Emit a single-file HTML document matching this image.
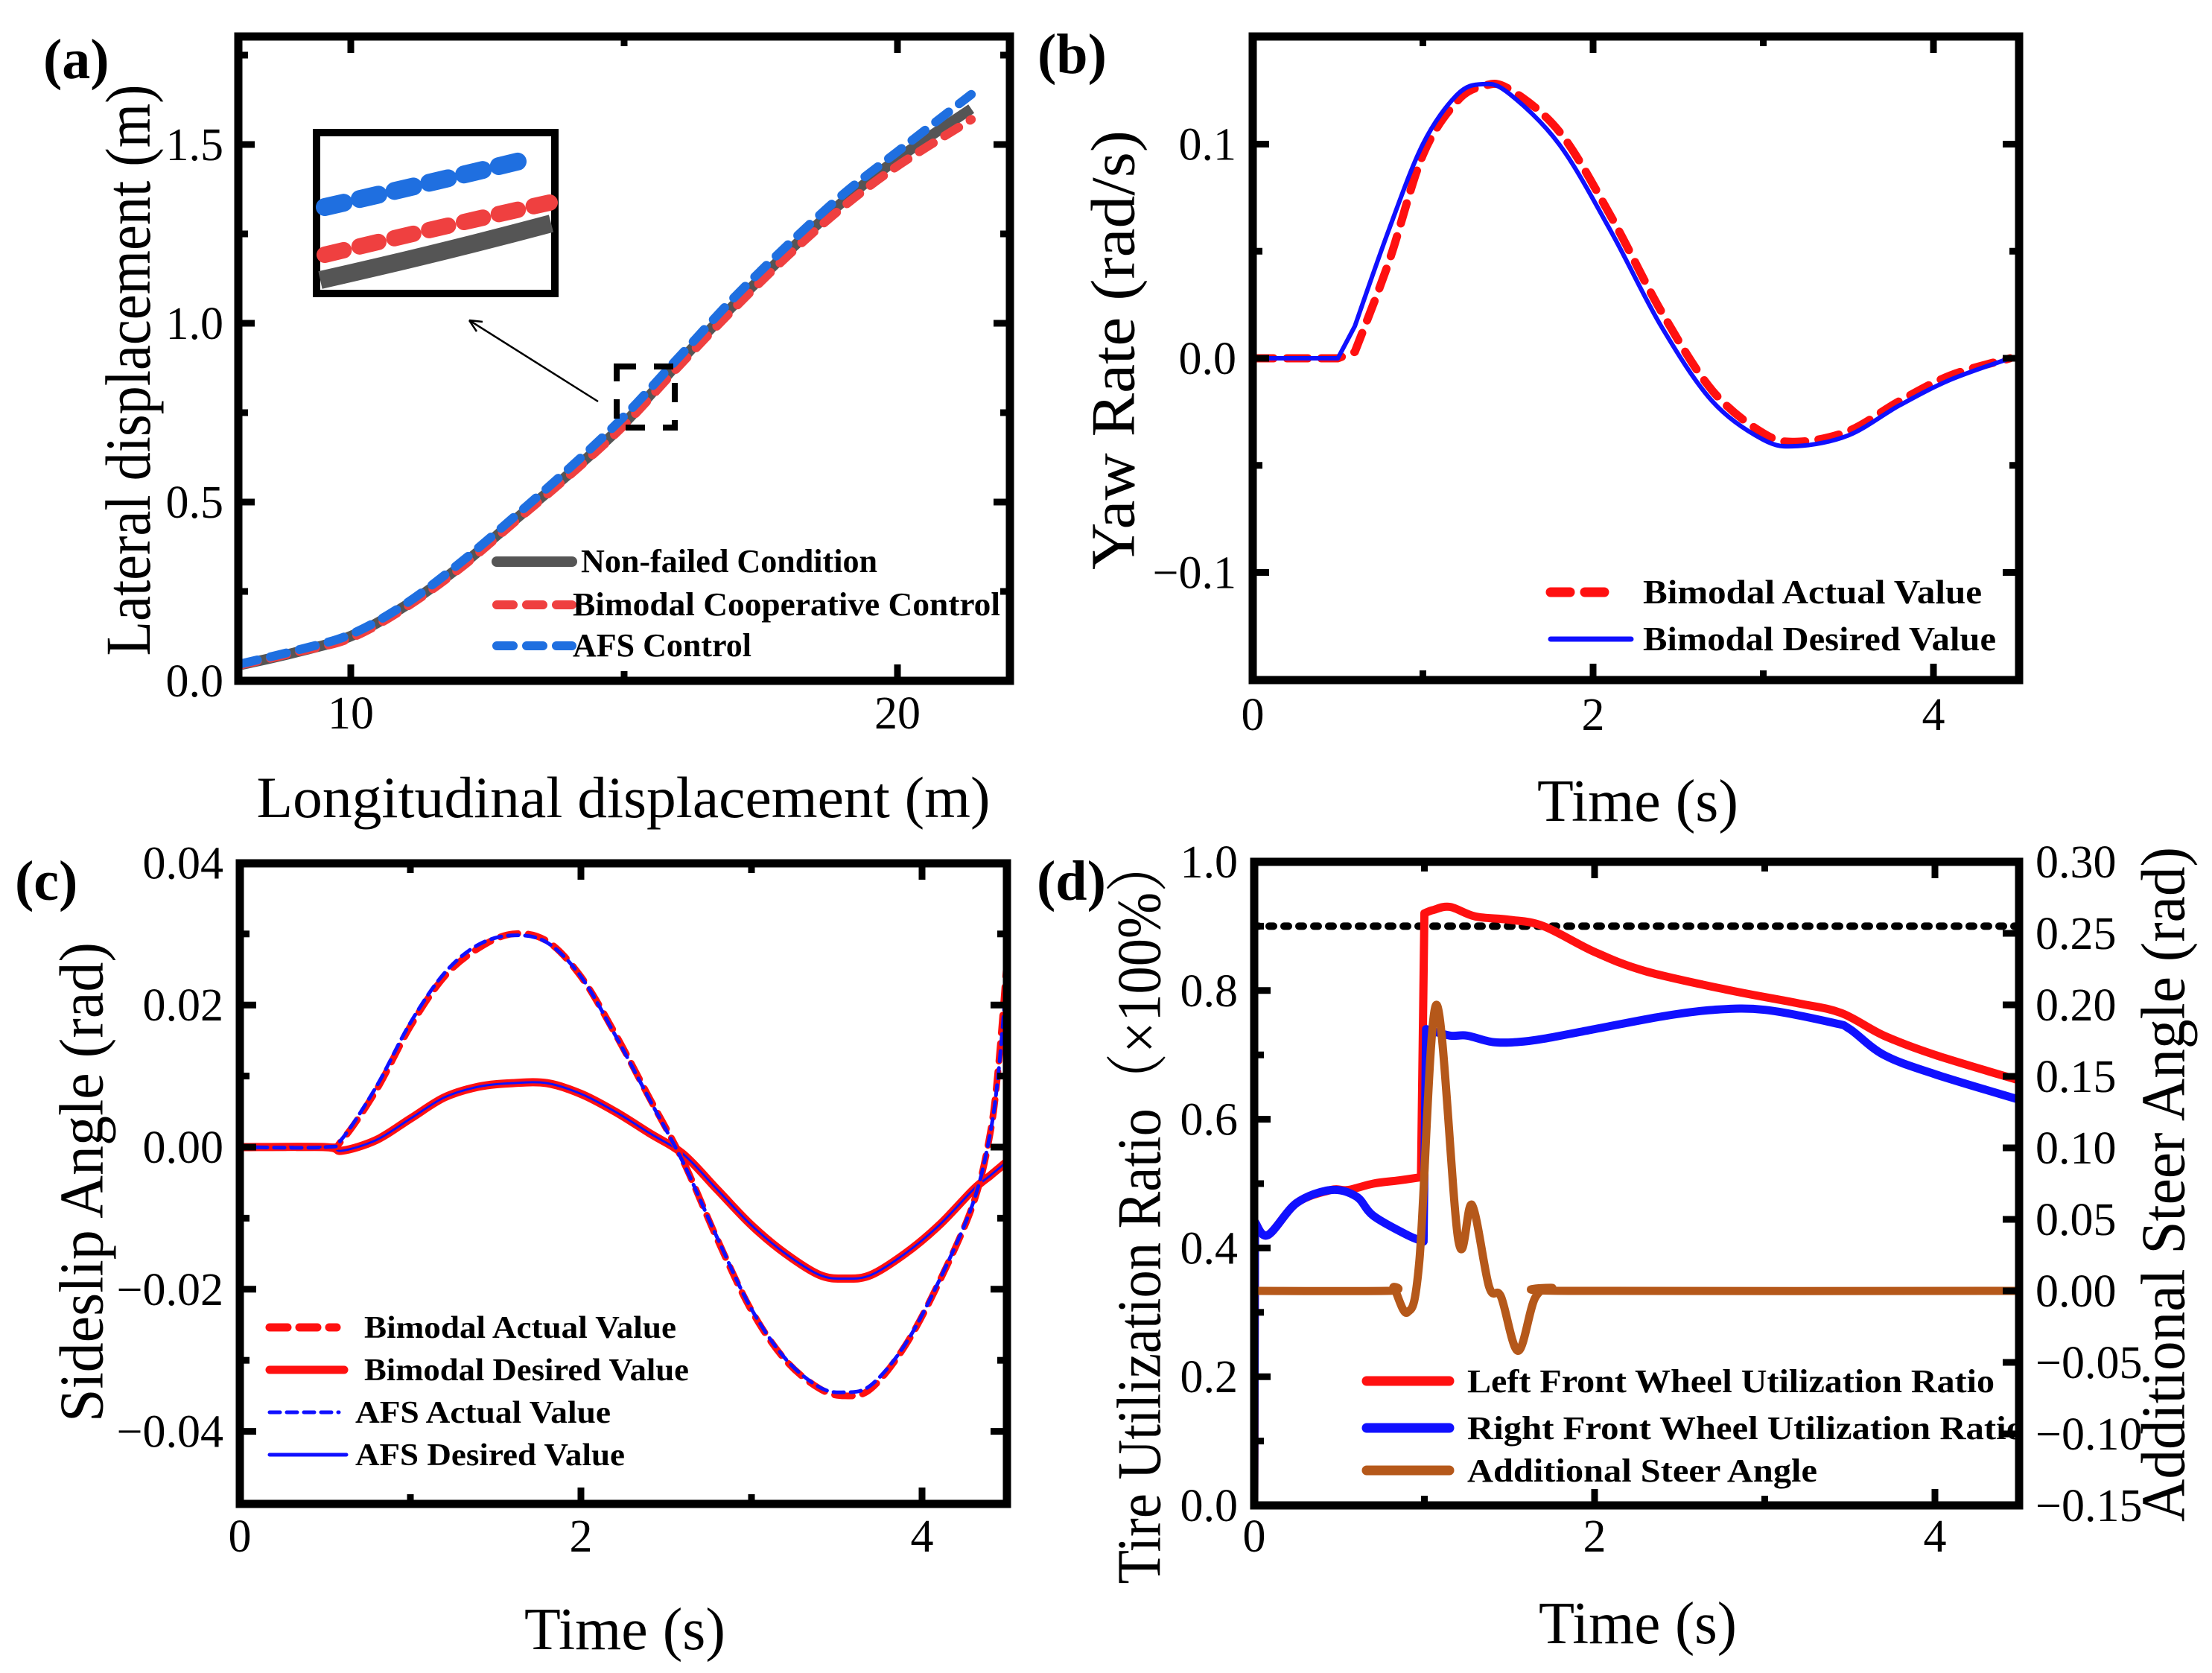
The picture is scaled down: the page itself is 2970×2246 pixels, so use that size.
<!DOCTYPE html>
<html><head><meta charset="utf-8"><title>Vehicle control results</title>
<style>html,body{margin:0;padding:0;background:#fff}svg{display:block}</style></head>
<body>
<svg id="fig" xmlns="http://www.w3.org/2000/svg" width="2970" height="2246" viewBox="0 0 2970 2246" font-family="'Liberation Serif', serif">
<rect width="2970" height="2246" fill="#fff"/>
</svg>
<script>
// ---------- Panel (a) data ----------
const aX = [8, 9, 10, 11, 12, 13, 14, 15, 16, 17, 18, 19, 20, 21.35];
const aGray = [0.045, 0.08, 0.125, 0.21, 0.32, 0.45, 0.58, 0.72, 0.89, 1.05, 1.2, 1.34, 1.46, 1.6];
const aRed = [0.045, 0.08, 0.12, 0.205, 0.315, 0.445, 0.575, 0.715, 0.88, 1.04, 1.19, 1.325, 1.44, 1.57];
const aBlue = [0.048, 0.085, 0.13, 0.215, 0.33, 0.46, 0.595, 0.74, 0.905, 1.07, 1.22, 1.36, 1.48, 1.64];
const aXTicks = [10, 20];
const aYTicks = [0.0, 0.5, 1.0, 1.5];
// ---------- Panel (b) data ----------
const bT = [0, 0.5, 0.6, 0.8, 1.0, 1.2, 1.35, 1.5, 1.8, 2.1, 2.4, 2.7, 3.0, 3.2, 3.5, 3.8, 4.1, 4.45];
const bDesired = [0, 0, 0.015, 0.06, 0.1, 0.123, 0.128, 0.124, 0.1, 0.06, 0.015, -0.02, -0.038, -0.041, -0.036, -0.022, -0.01, 0];
const bActual = [0, 0, 0.003, 0.045, 0.095, 0.12, 0.127, 0.126, 0.106, 0.067, 0.022, -0.015, -0.035, -0.039, -0.034, -0.02, -0.008, 0];
const bXTicks = [0, 2, 4];
const bYTicks = [-0.1, 0.0, 0.1];
// ---------- Panel (c) data ----------
const cT = [0, 0.5, 0.6, 0.8, 1.0, 1.2, 1.4, 1.6, 1.8, 2.0, 2.2, 2.4, 2.6, 2.8, 3.0, 3.2, 3.4, 3.55, 3.7, 3.9, 4.1, 4.3, 4.4, 4.45, 4.5];
const cBiActual = [0, 0, 0.001, 0.008, 0.017, 0.024, 0.028, 0.030, 0.029, 0.024, 0.016, 0.007, -0.002, -0.013, -0.023, -0.030, -0.034, -0.035, -0.034, -0.028, -0.019, -0.008, 0.002, 0.012, 0.027];
const cAfsActual = [0, 0, 0.0012, 0.0085, 0.0175, 0.0245, 0.0285, 0.0298, 0.0288, 0.024, 0.0158, 0.0068, -0.0022, -0.0128, -0.0228, -0.0298, -0.0338, -0.0345, -0.0335, -0.0278, -0.0188, -0.0078, 0.002, 0.011, 0.025];
const cBiDesired = [0, 0, -0.0005, 0.001, 0.004, 0.007, 0.0085, 0.009, 0.009, 0.0075, 0.005, 0.002, -0.001, -0.006, -0.011, -0.015, -0.018, -0.0185, -0.018, -0.015, -0.011, -0.006, -0.004, -0.003, -0.002];
const cAfsDesired = cBiDesired.slice();
const cXTicks = [0, 2, 4];
const cYTicks = [0.04, 0.02, 0.0, -0.02, -0.04];
const cYLabels = ['0.04', '0.02', '0.00', '\u22120.02', '\u22120.04'];
// ---------- Panel (d) data ----------
const dTLeft = [0, 0.005, 0.08, 0.25, 0.45, 0.55, 0.7, 0.85, 0.98, 1.0, 1.05, 1.15, 1.3, 1.5, 1.7, 2.0, 2.3, 2.8, 3.2, 3.45, 3.7, 4.0, 4.5];
const dLeftRatio = [0.0, 0.44, 0.42, 0.47, 0.49, 0.49, 0.5, 0.505, 0.51, 0.92, 0.925, 0.93, 0.915, 0.91, 0.9, 0.86, 0.83, 0.8, 0.78, 0.765, 0.73, 0.7, 0.66];
const dTRight = [0, 0.005, 0.08, 0.25, 0.45, 0.6, 0.7, 0.9, 0.995, 1.01, 1.15, 1.25, 1.4, 1.55, 1.7, 2.0, 2.4, 2.7, 3.0, 3.4, 3.5, 3.7, 4.0, 4.5];
const dRightRatio = [0.0, 0.44, 0.42, 0.47, 0.49, 0.48, 0.45, 0.42, 0.41, 0.74, 0.73, 0.73, 0.72, 0.72, 0.725, 0.74, 0.76, 0.77, 0.77, 0.75, 0.74, 0.7, 0.67, 0.63];
const dTSteer = [0, 0.78, 0.82, 0.9, 0.97, 1.07, 1.2, 1.28, 1.38, 1.45, 1.55, 1.65, 1.75, 1.85, 4.5];
const dSteer = [0, 0, 0.002, -0.015, 0.02, 0.2, 0.035, 0.06, 0.003, -0.004, -0.042, -0.005, 0.002, 0, 0];
const dThreshold = [0.9];
const dXTicks = [0, 2, 4];
const dYLTicks = [0.0, 0.2, 0.4, 0.6, 0.8, 1.0];
const dYRTicks = [-0.15, -0.10, -0.05, 0.0, 0.05, 0.10, 0.15, 0.20, 0.25, 0.30];
const dYRLabels = ['\u22120.15', '\u22120.10', '\u22120.05', '0.00', '0.05', '0.10', '0.15', '0.20', '0.25', '0.30'];

const NS = 'http://www.w3.org/2000/svg';
const svg = document.getElementById('fig');
function mk(tag, parent) { const e = document.createElementNS(NS, tag); parent.appendChild(e); return e; }
function smoothSeg(pts, start) {
  let d = start ? 'M' + pts[0][0].toFixed(1) + ',' + pts[0][1].toFixed(1) : ' L' + pts[0][0].toFixed(1) + ',' + pts[0][1].toFixed(1);
  for (let i = 0; i < pts.length - 1; i++) {
    const p0 = pts[Math.max(0, i - 1)], p1 = pts[i], p2 = pts[i + 1], p3 = pts[Math.min(pts.length - 1, i + 2)];
    const c1x = p1[0] + (p2[0] - p0[0]) / 6, c1y = p1[1] + (p2[1] - p0[1]) / 6;
    const c2x = p2[0] - (p3[0] - p1[0]) / 6, c2y = p2[1] - (p3[1] - p1[1]) / 6;
    d += ' C' + c1x.toFixed(1) + ',' + c1y.toFixed(1) + ' ' + c2x.toFixed(1) + ',' + c2y.toFixed(1) + ' ' + p2[0].toFixed(1) + ',' + p2[1].toFixed(1);
  }
  return d;
}
function smooth(pts) { return smoothSeg(pts, true); }
// piecewise smooth: breaks (vertical jumps) are drawn as straight segments
function piecewise(pts, breaks) {
  let d = '', s = 0;
  const cuts = breaks.concat([pts.length]);
  cuts.forEach((c, k) => { d += smoothSeg(pts.slice(s, c), k === 0); s = c; });
  return d;
}
function linear(pts) { return 'M' + pts.map(p => p[0].toFixed(1) + ',' + p[1].toFixed(1)).join(' L'); }
function series(g, xs, ys, X, Y, color, width, dash, mode, breaks) {
  const pts = xs.map((x, i) => [X(x), Y(ys[i])]);
  const p = mk('path', g);
  p.setAttribute('d', mode === 'smooth' ? smooth(pts) : mode === 'piece' ? piecewise(pts, breaks) : linear(pts));
  p.setAttribute('fill', 'none');
  p.setAttribute('stroke', color);
  p.setAttribute('stroke-width', width);
  p.setAttribute('stroke-linejoin', 'round');
  if (dash) { p.setAttribute('stroke-dasharray', dash); p.setAttribute('stroke-linecap', 'round'); }
  return p;
}
function text(g, x, y, str, size, opts) {
  const t = mk('text', g);
  t.setAttribute('x', x); t.setAttribute('y', y);
  t.setAttribute('font-size', size);
  t.setAttribute('fill', '#000');
  if (opts.anchor) t.setAttribute('text-anchor', opts.anchor);
  if (opts.bold) t.setAttribute('font-weight', 'bold');
  if (opts.len) { t.setAttribute('textLength', opts.len); t.setAttribute('lengthAdjust', 'spacingAndGlyphs'); }
  if (opts.rot) { t.setAttribute('transform', 'rotate(-90 ' + x + ' ' + y + ')'); t.setAttribute('dominant-baseline', 'central'); }
  t.textContent = str;
  return t;
}
function tick(g, x1, y1, x2, y2) {
  const l = mk('line', g);
  l.setAttribute('x1', x1); l.setAttribute('y1', y1); l.setAttribute('x2', x2); l.setAttribute('y2', y2);
  l.setAttribute('stroke', '#000'); l.setAttribute('stroke-width', 9);
}
function frame(g, L, R, T, B) {
  const r = mk('rect', g);
  r.setAttribute('x', L); r.setAttribute('y', T); r.setAttribute('width', R - L); r.setAttribute('height', B - T);
  r.setAttribute('fill', 'none'); r.setAttribute('stroke', '#000'); r.setAttribute('stroke-width', 11);
  
  
}
function xTicks(g, vals, X, T, B, len) { vals.forEach(v => { tick(g, X(v), B, X(v), B - len); tick(g, X(v), T, X(v), T + len); }); }
function yTicks(g, vals, Y, L, R, len, sides) { vals.forEach(v => { if (sides !== 'R') tick(g, L, Y(v), L + len, Y(v)); if (sides !== 'L') tick(g, R, Y(v), R - len, Y(v)); }); }
function legendLine(g, x1, x2, y, color, width, dash) {
  const l = mk('line', g);
  l.setAttribute('x1', x1); l.setAttribute('x2', x2); l.setAttribute('y1', y); l.setAttribute('y2', y);
  l.setAttribute('stroke', color); l.setAttribute('stroke-width', width); l.setAttribute('stroke-linecap', 'round');
  if (dash) l.setAttribute('stroke-dasharray', dash);
  return l;
}

// ================= Panel (a) =================
(function () {
  const g = mk('g', svg);
  
  
  const L = 320, R = 1356, T = 49, B = 914;
  const X = v => 471 + (v - 10) * 73.4;
  const Y = v => 914 - v * 480;
  const gray = series(g, aX, aGray, X, Y, '#555555', 14, null, 'smooth');
  
  
  const red = series(g, aX, aRed, X, Y, '#ef4040', 12, '22 18', 'smooth');
  
  
  const blue = series(g, aX, aBlue, X, Y, '#1f6fe0', 12, '22 18', 'smooth');
  
  
  frame(g, L, R, T, B);
  xTicks(g, aXTicks, X, T, B, 22);
  xTicks(g, [15], X, T, B, 13);
  yTicks(g, aYTicks, Y, L, R, 22);
  yTicks(g, [0.25, 0.75, 1.25, 1.75], Y, L, R, 13);
  aXTicks.forEach(v => { const t = text(g, X(v), 978, String(v), 62, { anchor: 'middle' });   });
  aYTicks.forEach(v => { const t = text(g, 300, Y(v) + 21, v.toFixed(1), 62, { anchor: 'end' });   });
  // zoom inset
  const ins = mk('g', g);
  
  
  const ib = mk('rect', ins);
  ib.setAttribute('x', 425); ib.setAttribute('y', 178); ib.setAttribute('width', 320); ib.setAttribute('height', 216);
  ib.setAttribute('fill', '#fff'); ib.setAttribute('stroke', '#000'); ib.setAttribute('stroke-width', 10);
  const p1 = mk('path', ins); p1.setAttribute('d', 'M430,376 Q590,340 740,300'); p1.setAttribute('stroke', '#555'); p1.setAttribute('stroke-width', 24); p1.setAttribute('fill', 'none');
  const p2 = mk('path', ins); p2.setAttribute('d', 'M436,342 Q590,305 738,272'); p2.setAttribute('stroke', '#ef4040'); p2.setAttribute('stroke-width', 22); p2.setAttribute('fill', 'none'); p2.setAttribute('stroke-dasharray', '26 22'); p2.setAttribute('stroke-linecap', 'round');
  const p3 = mk('path', ins); p3.setAttribute('d', 'M436,278 Q580,245 715,212'); p3.setAttribute('stroke', '#1f6fe0'); p3.setAttribute('stroke-width', 24); p3.setAttribute('fill', 'none'); p3.setAttribute('stroke-dasharray', '26 22'); p3.setAttribute('stroke-linecap', 'round');
  const sq = mk('rect', g);
  sq.setAttribute('x', 828); sq.setAttribute('y', 492); sq.setAttribute('width', 78); sq.setAttribute('height', 82);
  sq.setAttribute('fill', 'none'); sq.setAttribute('stroke', '#000'); sq.setAttribute('stroke-width', 8); sq.setAttribute('stroke-dasharray', '26 24');
  
  
  const ar = mk('path', g);
  ar.setAttribute('d', 'M803,539 L630,430 M630,430 L648,432 M630,430 L640,445');
  ar.setAttribute('stroke', '#000'); ar.setAttribute('stroke-width', 2.5); ar.setAttribute('fill', 'none');
  
  
  // legend
  const lg = mk('g', g);
  
  
  legendLine(lg, 667, 768, 754, '#555555', 14);
  legendLine(lg, 667, 768, 812, '#ef4040', 12, '22 18');
  legendLine(lg, 667, 768, 867, '#1f6fe0', 12, '22 18');
  text(lg, 780, 768, 'Non-failed Condition', 44, { bold: true, len: 398 });
  text(lg, 769, 826, 'Bimodal  Cooperative Control', 44, { bold: true, len: 574 });
  text(lg, 769, 881, 'AFS Control', 44, { bold: true, len: 240 });
  const xt = text(g, 837, 1097, 'Longitudinal displacement (m)', 78, { anchor: 'middle', len: 985 });
  
  
  const yt = text(g, 172, 497, 'Lateral displacement (m)', 86, { anchor: 'middle', rot: true, len: 767 });
  
  
  const pl = text(g, 58, 105, '(a)', 76, { bold: true });
  
  
})();

// ================= Panel (b) =================
(function () {
  const g = mk('g', svg);
  
  
  const L = 1682, R = 2711, T = 49, B = 913;
  const X = v => 1682 + v * 228.5;
  const Y = v => 481 - v * 2875;
  const act = series(g, bT, bActual, X, Y, '#ff1010', 11, '28 18', 'piece', [2]);
  
  
  const des = series(g, bT, bDesired, X, Y, '#1010ff', 6, null, 'piece', [2]);
  
  
  frame(g, L, R, T, B);
  xTicks(g, bXTicks, X, T, B, 22);
  xTicks(g, [1, 3], X, T, B, 13);
  yTicks(g, bYTicks, Y, L, R, 22);
  yTicks(g, [-0.05, 0.05], Y, L, R, 13);
  bXTicks.forEach(v => { const t = text(g, X(v), 980, String(v), 62, { anchor: 'middle' });   });
  bYTicks.forEach(v => { const t = text(g, 1660, Y(v) + 21, (v < 0 ? '\u2212' : '') + Math.abs(v).toFixed(1), 62, { anchor: 'end' });   });
  const lg = mk('g', g);
  
  
  legendLine(lg, 2082, 2162, 795, '#ff1010', 13, '26 20');
  legendLine(lg, 2082, 2190, 858, '#1010ff', 7);
  text(lg, 2206, 810, 'Bimodal Actual Value', 46, { bold: true, len: 455 });
  text(lg, 2206, 873, 'Bimodal Desired Value', 46, { bold: true, len: 474 });
  const xt = text(g, 2199, 1102, 'Time (s)', 80, { anchor: 'middle', len: 270 });
  
  
  const yt = text(g, 1495, 470, 'Yaw Rate (rad/s)', 84, { anchor: 'middle', rot: true, len: 590 });
  
  
  const pl = text(g, 1393, 98, '(b)', 76, { bold: true });
  
  
})();

// ================= Panel (c) =================
(function () {
  const g = mk('g', svg);
  
  
  const L = 322, R = 1352, T = 1159, B = 2019;
  const X = v => 322 + v * 229;
  const Y = v => 1540 - v * 9540;
  const bd = series(g, cT, cBiDesired, X, Y, '#ff1010', 11, null, 'smooth');
  
  
  const ad = series(g, cT, cAfsDesired, X, Y, '#1010ff', 3, null, 'smooth');
  
  
  const ba = series(g, cT, cBiActual, X, Y, '#ff1010', 9, '24 14', 'smooth');
  
  
  const aa = series(g, cT, cAfsActual, X, Y, '#1010ff', 5, '14 9', 'smooth');
  
  
  frame(g, L, R, T, B);
  xTicks(g, cXTicks, X, T, B, 22);
  xTicks(g, [1, 3], X, T, B, 13);
  yTicks(g, cYTicks, Y, L, R, 22);
  yTicks(g, [0.03, 0.01, -0.01, -0.03], Y, L, R, 13);
  cXTicks.forEach(v => { const t = text(g, X(v), 2083, String(v), 62, { anchor: 'middle' });   });
  cYTicks.forEach((v, i) => { const t = text(g, 300, Y(v) + 21, cYLabels[i], 62, { anchor: 'end' });   });
  const lg = mk('g', g);
  
  
  legendLine(lg, 362, 452, 1782, '#ff1010', 11, '24 16');
  legendLine(lg, 362, 462, 1839, '#ff1010', 11);
  legendLine(lg, 362, 455, 1896, '#1010ff', 5, '14 9');
  legendLine(lg, 362, 465, 1953, '#1010ff', 5);
  text(lg, 489, 1796, 'Bimodal Actual Value', 42, { bold: true, len: 419 });
  text(lg, 489, 1853, 'Bimodal Desired Value', 42, { bold: true, len: 436 });
  text(lg, 477, 1910, 'AFS Actual Value', 42, { bold: true, len: 343 });
  text(lg, 477, 1967, 'AFS Desired Value', 42, { bold: true, len: 362 });
  const xt = text(g, 839, 2214, 'Time (s)', 80, { anchor: 'middle', len: 270 });
  
  
  const yt = text(g, 110, 1587, 'Sideslip Angle (rad)', 84, { anchor: 'middle', rot: true, len: 644 });
  
  
  const pl = text(g, 20, 1208, '(c)', 76, { bold: true });
  
  
})();

// ================= Panel (d) =================
(function () {
  const g = mk('g', svg);
  
  
  const L = 1684, R = 2711, T = 1157, B = 2021;
  const X = v => 1684 + v * 228.5;
  const YL = v => 2021 - v * 864;
  const YR = v => 1733 - v * 1920;
  const th = series(g, [0, 4.5], [dThreshold[0], dThreshold[0]], X, YL, '#000', 10, '6 14', 'linear');
  
  
  const lr = series(g, dTLeft, dLeftRatio, X, YL, '#ff1010', 11, null, 'piece', [1, 9]);
  
  
  const rr = series(g, dTRight, dRightRatio, X, YL, '#1010ff', 11, null, 'piece', [1, 9]);
  
  
  const st = series(g, dTSteer, dSteer, X, YR, '#b5581a', 11, null, 'smooth');
  
  
  const lg = mk('g', g);
  
  
  legendLine(lg, 1835, 1946, 1854, '#ff1010', 13);
  legendLine(lg, 1835, 1946, 1917, '#1010ff', 13);
  legendLine(lg, 1835, 1946, 1974, '#b5581a', 13);
  text(lg, 1970, 1869, 'Left Front Wheel Utilization Ratio', 44, { bold: true, len: 708 });
  text(lg, 1970, 1932, 'Right Front Wheel Utilization Ratio', 44, { bold: true, len: 748 });
  text(lg, 1970, 1989, 'Additional Steer Angle', 44, { bold: true, len: 470 });
  frame(g, L, R, T, B);
  xTicks(g, dXTicks, X, T, B, 22);
  xTicks(g, [1, 3], X, T, B, 13);
  yTicks(g, dYLTicks, YL, L, R, 22, 'L');
  yTicks(g, [0.1, 0.3, 0.5, 0.7, 0.9], YL, L, R, 13, 'L');
  yTicks(g, dYRTicks, YR, L, R, 22, 'R');
  dXTicks.forEach(v => { const t = text(g, X(v), 2083, String(v), 62, { anchor: 'middle' });   });
  dYLTicks.forEach(v => { const t = text(g, 1662, YL(v) + 21, v.toFixed(1), 62, { anchor: 'end' });   });
  dYRTicks.forEach((v, i) => { const t = text(g, 2733, YR(v) + 21, dYRLabels[i], 62, {});   });
  const xt = text(g, 2199, 2206, 'Time (s)', 80, { anchor: 'middle', len: 266 });
  
  
  const yt = text(g, 1530, 1625, 'Tire Utilization Ratio\uFF08\u00D7100%\uFF09', 84, { anchor: 'middle', rot: true, len: 1003 });
  yt.setAttribute('font-family', "'Liberation Serif', 'Noto Serif CJK SC', serif");
  
  
  const yr = text(g, 2905, 1590, 'Additional Steer Angle (rad)', 84, { anchor: 'middle', rot: true, len: 906 });
  
  
  const pl = text(g, 1392, 1208, '(d)', 76, { bold: true });
  
  
})();
</script>
</body></html>
